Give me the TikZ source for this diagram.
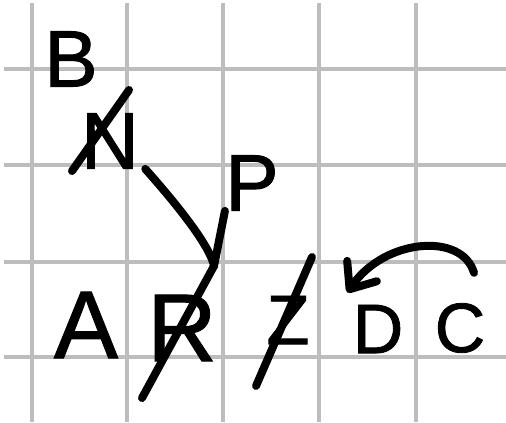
\documentclass[tikz,border=0pt]{standalone}
\usepackage{fontspec}
\setmainfont{Liberation Sans}[FakeBold=1.2]
\usepackage{xcolor}
\usetikzlibrary{arrows.meta}
\definecolor{gridgray}{HTML}{BDBDBD}
\definecolor{ink}{HTML}{000000}
\newcommand{\fsBig}{\fontsize{48}{52}\selectfont}
\newcommand{\fsMid}{\fontsize{40}{44}\selectfont}
\newcommand{\fsSmall}{\fontsize{35}{38}\selectfont}
\tikzset{
  pen/.style={ink, line width=4pt, line cap=round, line join=round},
  letter/.style={inner sep=0pt, text=ink},
}

\begin{document}
\begin{tikzpicture}[x=0.5pt, y=-0.5pt]
  \useasboundingbox (0,0) rectangle (506,422);
  \fill[white] (0,0) rectangle (506,422);
  % grid
  \foreach \gx in {32,127,223,319,416}
    \draw[gridgray, line width=2pt] (\gx,3) -- (\gx,422);
  \foreach \gy in {69,165,262,357}
    \draw[gridgray, line width=2pt] (4,\gy) -- (506,\gy);

  % letters
  \node[letter, font=\fsMid] (b) at (71,59) {B};
  \node[letter, font=\fsMid] (n) at (110,141) {N};
  \node[letter, font=\fsMid] (p) at (252,183) {P};
  \node[letter, font=\fsBig] (a) at (86,325) {A};
  \node[letter, font=\fsBig] (r) at (182,328) {R};
  \node[letter, font=\fsSmall] (z) at (288,320) {Z};
  \node[letter, font=\fsSmall] (d) at (378,329) {D};
  \node[letter, font=\fsSmall] (c) at (460,328) {C};
  \coordinate (rtop) at ([shift={(32,-62)}]r.center);

  % strike-outs
  \draw[pen] (n.center) ++(-38,30) -- ++(57,-81);
  \draw[pen] (r.center) ++(-40,70) -- (rtop);
  \draw[pen] (z.center) ++(-32,66) -- ++(56,-129);

  % strokes into R
  \draw[pen] ([shift={(6,0)}]n.south east) .. controls +(15,17) and +(-5,-25) .. (rtop);
  \draw[pen] (p.south west) -- (rtop);

  % arrow from C to D
  \draw[pen, -{Straight Barb[round, length=11pt, width=18pt]}]
    ([shift={(14,-30)}]c.north) .. controls +(-12,-41) and +(37,-54) .. ([shift={(-5,-12)}]d.north west);
\end{tikzpicture}
\end{document}
